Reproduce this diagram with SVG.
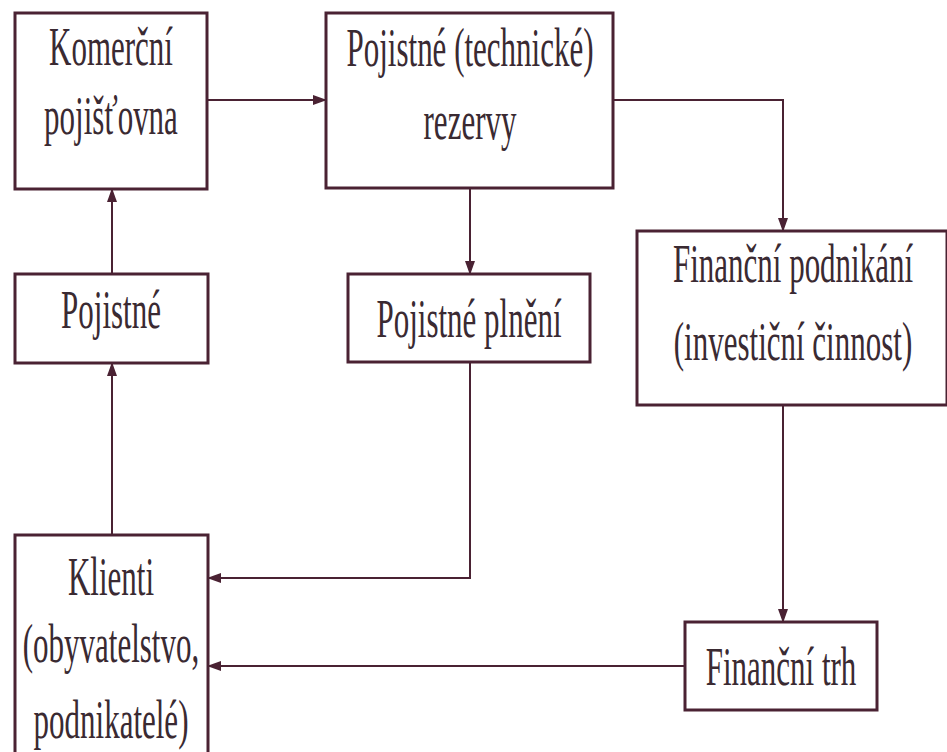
<svg xmlns="http://www.w3.org/2000/svg" width="947" height="752" viewBox="0 0 947 752">
<style>
.box{fill:#fff;stroke:#4a2233;stroke-width:3}
.lbl{font-family:"Liberation Serif","Times New Roman",serif;font-size:31px;fill:#3a2a32;text-anchor:middle}
.con{fill:none;stroke:#4a2233;stroke-width:2}
</style>
<defs>
<marker id="ah" markerWidth="14" markerHeight="10" refX="13" refY="5" orient="auto" markerUnits="userSpaceOnUse">
<path d="M0,0 L14,5 L0,10 Z" fill="#4a2233"/>
</marker>
</defs>
<rect width="947" height="752" fill="#fff"/>
<g id="connectors">
<path class="con" d="M207,100 H326" marker-end="url(#ah)"/>
<path class="con" d="M613,100 H783 V231" marker-end="url(#ah)"/>
<path class="con" d="M470,188 V274" marker-end="url(#ah)"/>
<path class="con" d="M470,362 V578 H208" marker-end="url(#ah)"/>
<path class="con" d="M783,405 V622" marker-end="url(#ah)"/>
<path class="con" d="M685,666 H208" marker-end="url(#ah)"/>
<path class="con" d="M112,274 V189" marker-end="url(#ah)"/>
<path class="con" d="M112,535 V363" marker-end="url(#ah)"/>
</g>
<g id="komercni">
<rect class="box" x="15" y="13" width="192" height="176"/>
<text class="lbl" transform="translate(111,65) scale(1,1.75)">Komerční</text>
<text class="lbl" transform="translate(111,134) scale(1,1.75)">pojišťovna</text>
</g>
<g id="rezervy">
<rect class="box" x="326" y="13" width="287" height="175"/>
<text class="lbl" transform="translate(470,66) scale(1,1.75)">Pojistné (technické)</text>
<text class="lbl" transform="translate(470,139) scale(1,1.75)">rezervy</text>
</g>
<g id="financni-podnikani">
<rect class="box" x="637" y="231" width="310" height="174"/>
<text class="lbl" transform="translate(793,282) scale(1,1.75)">Finanční podnikání</text>
<text class="lbl" transform="translate(793,360) scale(1,1.75)">(investiční činnost)</text>
</g>
<g id="pojistne-plneni">
<rect class="box" x="348" y="274" width="242" height="88"/>
<text class="lbl" transform="translate(469,337) scale(1,1.75)">Pojistné plnění</text>
</g>
<g id="pojistne">
<rect class="box" x="15" y="274" width="193" height="89"/>
<text class="lbl" transform="translate(111,328) scale(1,1.75)">Pojistné</text>
</g>
<g id="financni-trh">
<rect class="box" x="685" y="622" width="192" height="88"/>
<text class="lbl" transform="translate(781,685) scale(1,1.75)">Finanční trh</text>
</g>
<g id="klienti">
<rect class="box" x="15" y="535" width="193" height="230"/>
<text class="lbl" transform="translate(111,595) scale(1,1.75)">Klienti</text>
<text class="lbl" transform="translate(111,662) scale(1,1.75)">(obyvatelstvo,</text>
<text class="lbl" transform="translate(111,738) scale(1,1.75)">podnikatelé)</text>
</g>
</svg>
